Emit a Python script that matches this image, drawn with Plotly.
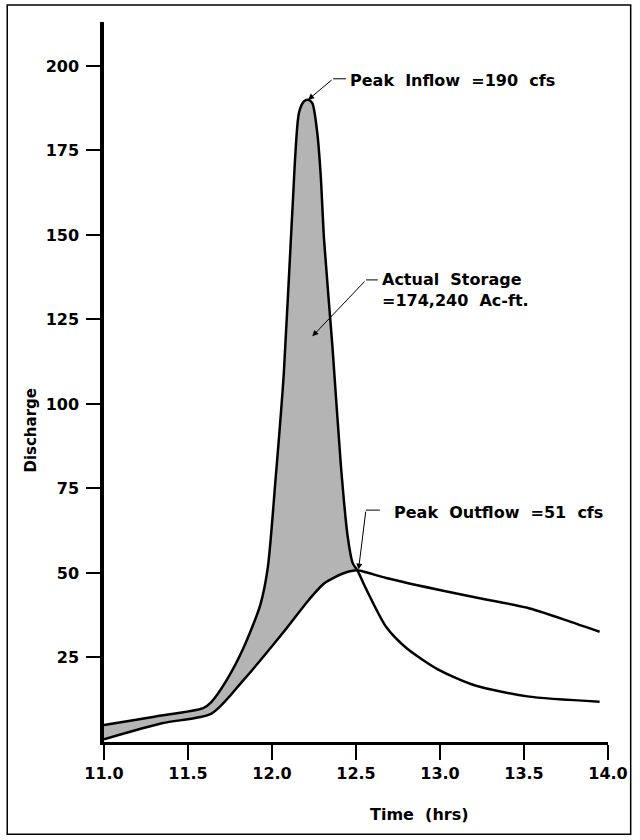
import plotly.graph_objects as go

# inflow hydrograph (time in hrs, discharge in cfs)
inflow_t = [11.0, 11.3, 11.59, 11.64, 11.73, 11.83, 11.93, 11.975, 12.02, 12.07,
            12.12, 12.16, 12.19, 12.215, 12.24, 12.27, 12.29, 12.31, 12.36, 12.41,
            12.45, 12.48, 12.51, 12.56, 12.68, 12.80, 12.99, 13.21, 13.52, 13.95]
inflow_q = [5.0, 7.5, 10.0, 11.9, 18.3, 27.8, 40.5, 51.6, 77.0, 108.8,
            156.0, 186.0, 189.5, 190.0, 189.0, 180.0, 167.6, 148.5, 116.8, 81.8,
            61.0, 53.0, 50.6, 45.3, 34.0, 27.8, 21.4, 16.7, 13.5, 11.9]

# outflow hydrograph
outflow_t = [11.0, 11.35, 11.64, 11.83, 12.07, 12.22, 12.31, 12.43, 12.51,
             12.56, 12.68, 13.04, 13.28, 13.52, 13.77, 13.95]
outflow_q = [0.8, 5.6, 8.4, 18.3, 32.6, 42.1, 46.9, 50.0, 50.8,
             50.2, 48.5, 44.5, 42.1, 39.7, 35.7, 32.6]

x_ticks = [11.0, 11.5, 12.0, 12.5, 13.0, 13.5, 14.0]
y_ticks = [25, 50, 75, 100, 125, 150, 175, 200]

peak_in_t, peak_in_q = 12.215, 190
peak_out_t, peak_out_q = 12.515, 51
storage_t, storage_q = 12.24, 120

FONT = "DejaVu Sans"
LINE = dict(color="black", width=2.5, shape="spline", smoothing=0.7)

# storage region = area between inflow and outflow up to the crossing
cross = 12.515
st_out_t = [t for t in outflow_t if t <= cross]
st_out_q = outflow_q[:len(st_out_t)]
st_in_t = [t for t in inflow_t if t <= cross]
st_in_q = inflow_q[:len(st_in_t)]

fig = go.Figure()
fig.add_trace(go.Scatter(x=st_out_t, y=st_out_q, mode="lines",
                         line=dict(width=0, shape="spline", smoothing=0.7),
                         hoverinfo="skip"))
fig.add_trace(go.Scatter(x=st_in_t, y=st_in_q, mode="lines", fill="tonexty",
                         fillcolor="#b4b4b4",
                         line=dict(width=0, shape="spline", smoothing=0.7),
                         hoverinfo="skip"))
fig.add_trace(go.Scatter(x=inflow_t, y=inflow_q, mode="lines", line=LINE, name="Inflow"))
fig.add_trace(go.Scatter(x=outflow_t, y=outflow_q, mode="lines", line=LINE, name="Outflow"))

tickfont = dict(family=FONT, size=16, color="black", weight="bold")
fig.update_xaxes(range=[11, 14], tickvals=x_ticks, ticktext=[f"{v:.1f}" for v in x_ticks],
                 showline=True, linecolor="black", linewidth=2.5, showgrid=False,
                 zeroline=False, ticks="outside", ticklen=15, tickwidth=2,
                 tickcolor="black", tickfont=tickfont)
fig.update_yaxes(range=[0, 213], tickvals=y_ticks,
                 showline=True, linecolor="black", linewidth=3.5, showgrid=False,
                 zeroline=False, ticks="outside", ticklen=14, tickwidth=1.5,
                 tickcolor="black", tickfont=tickfont, ticklabelstandoff=4)

annfont = dict(family=FONT, size=16, color="black", weight="bold")


def leader(tip_x, tip_y, bend_x, bend_y, end_x):
    # arrow from the bend to the point, plus a short horizontal tick to the text
    fig.add_annotation(x=tip_x, y=tip_y, ax=bend_x, ay=bend_y, axref="x", ayref="y",
                       text="", showarrow=True, arrowhead=2, arrowsize=1.2,
                       arrowwidth=1, arrowcolor="black")
    fig.add_shape(type="line", x0=bend_x, y0=bend_y, x1=end_x, y1=bend_y,
                  line=dict(color="black", width=1))


leader(peak_in_t, peak_in_q, 12.364, 196.2, 12.441)
fig.add_annotation(x=12.455, y=195.6, text="Peak  Inflow  =190  cfs", showarrow=False,
                   xanchor="left", font=annfont)

leader(storage_t, storage_q, 12.56, 136.7, 12.63)
fig.add_annotation(x=12.645, y=136.2, text="Actual  Storage<br>=174,240  Ac-ft.",
                   showarrow=False, xanchor="left", yanchor="middle", align="left",
                   font=annfont, yshift=-8)

leader(peak_out_t, peak_out_q, 12.559, 68.6, 12.642)
fig.add_annotation(x=12.715, y=68.0, text="Peak  Outflow  =51  cfs", showarrow=False,
                   xanchor="left", font=annfont)

fig.add_annotation(x=-0.166, y=0.433, xref="paper", yref="paper", text="Discharge",
                   textangle=-90, showarrow=False, font=dict(family=FONT, size=15,
                   color="black", weight="bold"))
fig.add_annotation(x=0.626, y=-0.116, xref="paper", yref="paper", text="Time  (hrs)",
                   showarrow=False, font=dict(family=FONT, size=16, color="black",
                   weight="bold"))

# outer frame
fig.add_shape(type="rect", xref="paper", yref="paper", x0=-0.192, x1=1.045,
              y0=-0.128, y1=1.0236, line=dict(color="black", width=1.5))

fig.update_layout(width=640, height=840, margin=dict(l=104, r=28, t=22, b=98),
                  plot_bgcolor="white", paper_bgcolor="white", showlegend=False)

fig.write_html("out.html", config={"displayModeBar": False},
               post_script="document.body.style.margin='0';"
                           "document.body.style.overflow='hidden';")
